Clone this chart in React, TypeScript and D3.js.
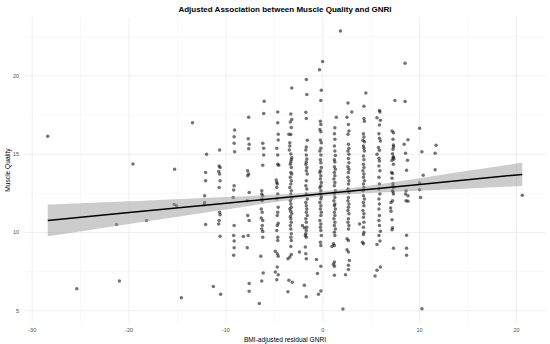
import React from 'react';
import * as d3 from 'd3';

const W = 550;
const H = 344;
const margin = { top: 17, right: 4, bottom: 21, left: 24 };

// axis breaks
const xTicks = [-30, -20, -10, 0, 10, 20];
const xMinor = [-25, -15, -5, 5, 15];
const yTicks = [5, 10, 15, 20];
const yMinor = [7.5, 12.5, 17.5, 22.5];

// fitted line + 95% band
const fitX = [-28.4, -20, -10, 0, 10, 20.6];
const fitY = [10.77, 11.27, 11.87, 12.47, 13.07, 13.71];
const fitLow = [9.76, 10.55, 11.47, 12.31, 12.67, 12.97];
const fitHigh = [11.78, 11.99, 12.27, 12.63, 13.47, 14.45];

// [residual GNRI, muscle quality]
const outliers: [number, number][] = [
  [-28.4, 16.14], [-25.4, 6.41], [-21.0, 6.9], [-21.3, 10.51], [-19.6, 14.37], [-18.2, 10.76],
  [-15.3, 14.04], [-15.35, 11.78], [-15.1, 11.71], [-13.45, 17.0], [-14.6, 5.83], [-11.3, 6.55],
  [-10.55, 6.05], [-8.2, 9.74], [1.83, 22.87], [2.08, 5.11], [10.24, 5.13], [20.6, 12.37],
];

const leftStripes: [number, number][] = [
  [-12.0, 14.99], [-12.1, 13.83], [-12.1, 13.3], [-12.2, 12.35], [-12.2, 11.92], [-12.25, 11.75], [-12.1, 10.51],
  [-10.65, 15.27], [-10.7, 14.25], [-10.6, 14.15], [-10.75, 13.89], [-10.65, 13.73], [-10.6, 13.3], [-10.7, 12.88],
  [-10.65, 11.29], [-10.6, 11.14], [-10.7, 10.76], [-10.75, 10.55], [-10.6, 9.76],
  [-9.1, 16.54], [-9.15, 16.11], [-9.15, 15.7], [-9.1, 15.16], [-9.15, 12.98], [-9.2, 12.71], [-9.25, 12.24],
  [-9.15, 10.44], [-9.2, 9.81], [-9.15, 9.45], [-9.15, 9.03], [-9.2, 8.54],
  [-7.65, 17.36], [-7.7, 15.99], [-7.6, 15.63], [-7.65, 15.35], [-7.75, 13.94], [-7.65, 13.73], [-7.75, 13.62],
  [-7.6, 12.56], [-7.8, 12.03], [-7.75, 11.08], [-7.6, 10.76], [-7.7, 9.81], [-7.8, 9.03], [-7.6, 6.74], [-7.6, 6.25],
  [-6.05, 18.38], [-6.1, 17.6], [-6.2, 15.7], [-6.1, 15.38], [-6.1, 14.95], [-6.2, 14.3], [-6.3, 12.67], [-6.3, 12.46],
  [-6.2, 12.35], [-6.3, 12.14], [-6.25, 12.03], [-6.35, 11.5], [-6.25, 11.29], [-6.35, 10.93], [-6.2, 10.76],
  [-6.25, 10.44], [-6.3, 10.23], [-6.2, 10.06], [-6.2, 9.7], [-6.4, 8.48], [-6.15, 7.42], [-6.3, 6.91], [-6.55, 5.47],
  [-4.65, 17.7], [-4.65, 17.0], [-4.6, 16.27], [-4.6, 15.9], [-4.75, 15.38], [-4.65, 14.95], [-4.65, 14.36],
  [-4.55, 14.3], [-4.8, 13.35], [-4.75, 13.19], [-4.7, 13.09], [-4.75, 12.88], [-4.65, 12.46], [-4.75, 12.14],
  [-4.6, 11.61], [-4.65, 11.29], [-4.7, 11.08], [-4.6, 10.59], [-4.7, 10.44], [-4.75, 10.13], [-4.65, 9.7],
  [-4.65, 9.49], [-4.9, 8.81], [-4.7, 8.65], [-4.6, 8.48], [-4.7, 7.8], [-4.9, 7.48], [-4.6, 7.31], [-4.75, 6.99],
];

const midStripes: [number, number][] = [
  [-3.2, 19.23], [-3.3, 17.57], [-3.2, 17.22], [-3.35, 17.05], [-3.25, 16.71], [-3.5, 16.27], [-3.3, 16.25],
  [-3.4, 15.73], [-3.4, 15.52], [-3.45, 15.27], [-3.3, 15.01], [-3.2, 14.78], [-3.25, 14.65], [-3.3, 14.5],
  [-3.35, 14.36], [-3.25, 14.15], [-3.3, 13.83], [-3.2, 13.73], [-3.35, 13.52], [-3.25, 13.3], [-3.3, 13.09],
  [-3.4, 12.88], [-3.25, 12.67], [-3.3, 12.46], [-3.2, 12.2], [-3.35, 12.03], [-3.3, 11.82], [-3.25, 11.61],
  [-3.4, 11.5], [-3.3, 11.35], [-3.2, 11.19], [-3.35, 11.02], [-3.3, 10.87], [-3.25, 10.65], [-3.35, 10.44],
  [-3.3, 10.23], [-3.25, 9.92], [-3.3, 9.7], [-3.25, 9.49], [-3.3, 9.11], [-3.6, 8.33], [-3.4, 8.43], [-3.25, 8.6],
  [-3.5, 6.95], [-3.15, 6.83], [-3.6, 6.21],
  [-1.7, 19.76], [-1.65, 18.81], [-1.75, 17.68], [-1.7, 17.28], [-1.6, 15.89], [-1.7, 15.46], [-1.75, 15.27],
  [-1.7, 14.95], [-1.65, 14.7], [-1.7, 14.5], [-1.75, 14.36], [-1.65, 14.15], [-1.7, 13.94], [-1.6, 13.73],
  [-1.7, 13.3], [-1.75, 12.98], [-1.65, 12.77], [-1.7, 12.46], [-1.6, 12.14], [-1.75, 11.92], [-1.7, 11.71],
  [-1.65, 11.5], [-1.7, 11.29], [-1.6, 11.08], [-1.75, 10.87], [-1.7, 10.65], [-2.1, 10.44], [-1.9, 10.3],
  [-1.65, 10.33], [-1.7, 10.13], [-1.75, 9.92], [-1.8, 9.81], [-1.7, 9.7], [-1.8, 9.07], [-2.4, 8.75],
  [-1.75, 8.65], [-1.7, 8.33], [-1.9, 6.64], [-1.7, 5.89],
  [-0.02, 20.92], [-0.33, 20.39], [-0.15, 19.08], [-0.2, 18.43], [-0.25, 17.11], [-0.2, 16.9], [-0.3, 16.58],
  [-0.2, 16.43], [-0.25, 15.9], [-0.15, 15.73], [-0.2, 15.38], [-0.3, 15.21], [-0.2, 14.95], [-0.25, 14.65],
  [-0.2, 14.46], [-0.15, 14.15], [-0.25, 13.94], [-0.3, 13.83], [-0.2, 13.62], [-0.25, 13.41], [-0.15, 13.19],
  [-0.2, 12.98], [-0.3, 12.88], [-0.2, 12.67], [-0.25, 12.46], [-0.15, 12.29], [-0.2, 12.14], [-0.3, 11.92],
  [-0.2, 11.71], [-0.25, 11.5], [-0.15, 11.29], [-0.2, 11.08], [-0.3, 10.76], [-0.2, 10.55], [-0.25, 10.33],
  [-0.2, 10.13], [-0.15, 9.81], [-0.25, 9.38], [-0.2, 9.17], [-0.65, 8.27], [-0.2, 7.84], [-0.55, 7.38],
  [-0.2, 6.27], [-0.45, 6.06],
  [1.4, 17.36], [1.25, 16.69], [1.2, 16.31], [1.25, 15.95], [1.2, 15.52], [1.25, 15.21], [1.3, 14.91], [1.2, 14.65],
  [1.25, 14.5], [1.2, 14.2], [1.3, 14.04], [1.2, 13.83], [1.25, 13.62], [1.15, 13.41], [1.25, 13.19], [1.2, 12.98],
  [1.3, 12.67], [1.2, 12.46], [1.25, 12.24], [1.15, 12.03], [1.25, 11.82], [1.2, 11.71], [1.3, 11.5], [1.2, 11.29],
  [1.25, 11.08], [1.15, 10.87], [1.25, 10.65], [1.2, 10.44], [1.3, 10.23], [1.2, 10.02], [1.25, 9.81], [1.1, 9.28],
  [1.2, 9.17], [0.95, 9.11], [1.2, 8.11], [1.1, 7.97], [1.2, 7.84], [1.2, 7.27],
];

const rightStripes: [number, number][] = [
  [2.5, 17.36], [2.6, 18.27], [3.0, 17.7], [2.65, 16.9], [2.7, 16.48], [2.6, 16.27], [2.65, 15.63], [2.7, 15.38],
  [2.6, 15.21], [2.7, 14.99], [2.65, 14.72], [2.7, 14.46], [2.6, 14.2], [2.7, 14.04], [2.65, 13.83], [2.6, 13.52],
  [2.7, 13.3], [2.65, 13.09], [2.6, 12.77], [2.7, 12.56], [2.65, 12.24], [2.6, 12.03], [2.7, 11.82], [2.65, 11.61],
  [2.6, 11.4], [2.7, 11.19], [2.65, 10.87], [2.6, 10.65], [2.7, 10.44], [2.65, 10.23], [2.5, 9.6], [2.65, 9.49],
  [2.5, 8.9], [2.65, 8.75], [2.75, 8.22], [2.65, 7.91], [2.65, 7.63], [2.35, 7.31],
  [4.45, 18.91], [4.25, 18.06], [4.25, 17.28], [4.3, 17.11], [4.2, 16.31], [4.25, 16.1], [4.15, 15.89], [4.3, 15.8],
  [4.2, 15.52], [4.25, 15.38], [4.3, 15.21], [4.2, 14.89], [4.25, 14.65], [4.2, 14.36], [4.25, 14.15], [4.15, 13.94],
  [4.25, 13.73], [4.2, 13.52], [4.3, 13.3], [4.2, 13.09], [4.25, 12.88], [4.15, 12.67], [4.2, 12.35], [4.3, 12.14],
  [4.2, 11.92], [4.25, 11.71], [4.15, 11.4], [4.25, 11.19], [4.2, 10.97], [4.25, 10.65], [3.8, 10.55], [4.2, 10.33],
  [4.25, 10.02], [4.2, 9.87], [4.1, 9.38], [4.2, 9.28],
  [5.85, 17.79], [5.9, 17.7], [5.6, 17.32], [5.95, 17.16], [5.85, 16.86], [5.8, 16.31], [5.85, 16.01], [5.95, 15.84],
  [5.75, 15.42], [5.85, 15.25], [5.6, 14.99], [5.8, 14.74], [5.85, 14.57], [5.8, 14.25], [5.9, 13.94], [5.8, 13.52],
  [5.85, 13.09], [5.8, 12.77], [5.9, 12.46], [5.8, 12.14], [5.85, 11.82], [5.8, 11.5], [5.85, 11.08], [5.8, 10.76],
  [5.85, 10.44], [5.95, 10.08], [5.8, 9.81], [5.6, 9.24], [5.9, 9.45], [5.95, 7.8], [5.6, 7.59], [5.4, 7.23],
  [7.45, 18.43], [7.15, 16.48], [7.3, 16.37], [7.25, 15.95], [7.3, 15.59], [7.25, 15.31], [7.2, 15.03], [7.25, 14.78],
  [7.3, 15.48], [7.3, 14.84], [7.35, 14.7], [7.15, 14.61], [7.3, 14.36], [7.1, 13.83], [7.2, 13.76], [7.15, 13.47],
  [7.25, 13.13], [7.25, 12.98], [7.3, 12.88], [7.2, 12.67], [7.25, 12.62], [7.3, 12.46], [7.2, 12.03], [7.05, 11.92],
  [7.0, 11.57], [7.05, 11.35], [7.15, 10.82], [7.2, 10.3], [7.15, 10.17], [7.3, 9.0],
  [8.5, 20.81], [8.5, 18.36], [8.8, 15.92], [8.4, 15.63], [8.55, 15.06], [8.75, 14.61], [8.65, 13.98], [8.6, 12.67],
  [8.55, 12.46], [8.8, 12.35], [8.6, 12.03], [8.8, 12.0], [8.65, 9.83], [8.65, 9.0], [8.65, 8.54],
  [10.0, 16.65], [10.24, 15.16], [10.37, 13.66], [10.0, 13.16], [10.0, 12.73], [10.1, 12.24],
  [11.7, 15.57], [11.6, 15.06], [11.6, 14.0],
];

const points = [...outliers, ...leftStripes, ...midStripes, ...rightStripes];

const font = '"Liberation Sans", Arial, Helvetica, sans-serif';

// ggplot-style 5% expansion
const expand = (ext: [number, number]): [number, number] => {
  const pad = (ext[1] - ext[0]) * 0.05;
  return [ext[0] - pad, ext[1] + pad];
};

export default function App() {
  const xExt = d3.extent(points, d => d[0]) as [number, number];
  const yExt = d3.extent(points, d => d[1]) as [number, number];

  const x = d3.scaleLinear().domain(expand(xExt)).range([margin.left, W - margin.right]);
  const y = d3.scaleLinear().domain(expand(yExt)).range([H - margin.bottom, margin.top]);

  const idx = d3.range(fitX.length);
  const band = d3.area<number>()
    .x(i => x(fitX[i]))
    .y0(i => y(fitLow[i]))
    .y1(i => y(fitHigh[i]))
    .curve(d3.curveNatural);
  const fitLine = d3.line<number>()
    .x(i => x(fitX[i]))
    .y(i => y(fitY[i]));

  const top = margin.top;
  const bottom = H - margin.bottom;
  const left = margin.left;
  const right = W - margin.right;

  return (
    <svg width={W} height={H} style={{ position: 'absolute', left: 0, top: 0, background: '#fff' }}>
      {/* grid */}
      <g>
        {yMinor.map(t => (
          <line key={'ym' + t} x1={left} x2={right} y1={y(t)} y2={y(t)} stroke="#f1f1f1" strokeWidth={0.5} />
        ))}
        {xMinor.map(t => (
          <line key={'xm' + t} x1={x(t)} x2={x(t)} y1={top} y2={bottom} stroke="#f1f1f1" strokeWidth={0.5} />
        ))}
        {yTicks.map(t => (
          <line key={'y' + t} x1={left} x2={right} y1={y(t)} y2={y(t)} stroke="#ebebeb" strokeWidth={0.8} />
        ))}
        {xTicks.map(t => (
          <line key={'x' + t} x1={x(t)} x2={x(t)} y1={top} y2={bottom} stroke="#ebebeb" strokeWidth={0.8} />
        ))}
      </g>

      {/* points */}
      <g>
        {points.map((d, i) => (
          <circle key={i} cx={x(d[0])} cy={y(d[1])} r={1.75} fill="#000" fillOpacity={0.55} />
        ))}
      </g>

      {/* smooth */}
      <path d={band(idx) || ''} fill="#999999" fillOpacity={0.5} />
      <path d={fitLine(idx) || ''} fill="none" stroke="#000" strokeWidth={1.5} />

      {/* tick labels */}
      <g fontFamily={font} fontSize={5.5} fill="#4d4d4d">
        {xTicks.map(t => (
          <text key={'xl' + t} x={x(t)} y={bottom + 8.5} textAnchor="middle">{t}</text>
        ))}
        {yTicks.map(t => (
          <text key={'yl' + t} x={left - 5} y={y(t)} dy="0.35em" textAnchor="end">{t}</text>
        ))}
      </g>

      {/* titles */}
      <text x={(left + right) / 2} y={12} textAnchor="middle" fontFamily={font} fontSize={8} fontWeight="bold" fill="#000">
        Adjusted Association between Muscle Quality and GNRI
      </text>
      <text x={(left + right) / 2} y={H - 2} textAnchor="middle" fontFamily={font} fontSize={6.6} fill="#000">
        BMI-adjusted residual GNRI
      </text>
      <text transform={`translate(10,${(top + bottom) / 2}) rotate(-90)`} textAnchor="middle" fontFamily={font} fontSize={6.6} fill="#000">
        Muscle Quality
      </text>
    </svg>
  );
}
